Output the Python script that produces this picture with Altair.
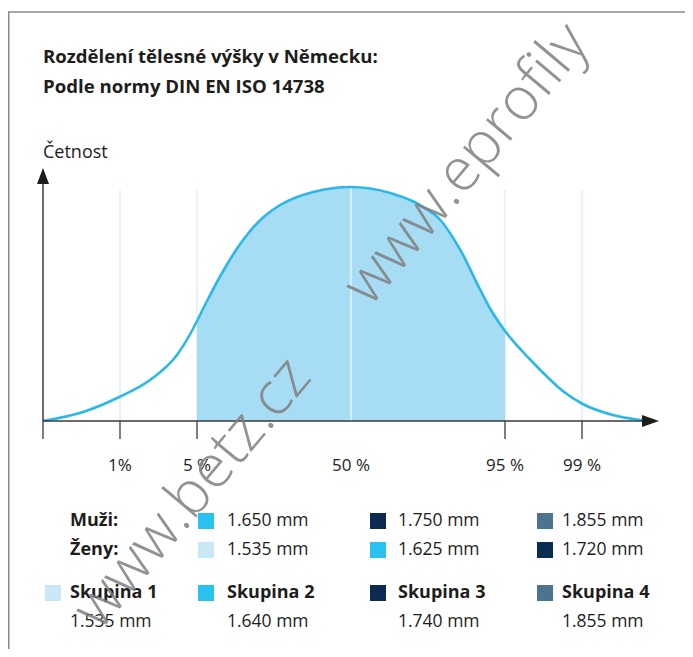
import altair as alt
import pandas as pd

# ---------------- data ----------------
# curve: x in "percentile-axis units" (1% = 1, 5% = 2, 50% = 4, 95% = 6, 99% = 7), h = frequency (arbitrary)
curve_x = [0.00, 0.52, 0.99, 1.39, 1.74, 1.94, 2.00, 2.13, 2.34, 2.56, 2.69, 2.88, 3.08, 3.30, 3.51, 3.99,
           4.51, 4.94, 5.16, 5.42, 5.68, 5.81, 6.00, 6.32, 6.55, 6.75, 7.01, 7.40, 7.71, 7.95]
curve_h = [0, 9, 24, 41, 66, 91, 100, 120, 150, 177, 190, 205, 216, 224, 229, 234,
           228, 214, 201, 171, 131, 112, 90, 62, 44, 30, 17, 6, 1.5, 0]

pct_labels = ["1%", "5 %", "50 %", "95 %", "99 %"]
pct_pos = [1, 2, 4, 6, 7]
tick_pos = [0, 1, 2, 6, 7]
grid_pos = [1, 2, 6, 7]
fill_from, fill_to = 2, 6
median_pos = 4

title_lines = ["Rozdělení tělesné výšky v Německu:", "Podle normy DIN EN ISO 14738"]
y_title = "Četnost"

row_labels = ["Muži:", "Ženy:"]
men_values = ["1.650 mm", "1.750 mm", "1.855 mm"]
women_values = ["1.535 mm", "1.625 mm", "1.720 mm"]
group_names = ["Skupina 1", "Skupina 2", "Skupina 3", "Skupina 4"]
group_values = ["1.535 mm", "1.640 mm", "1.740 mm", "1.855 mm"]

C_LIGHT, C_CYAN, C_NAVY, C_STEEL = "#c8e8f5", "#29c1ef", "#0c2b53", "#4c7390"
men_colors = [C_CYAN, C_NAVY, C_STEEL]
women_colors = [C_LIGHT, C_CYAN, C_NAVY]
group_colors = [C_LIGHT, C_CYAN, C_NAVY, C_STEEL]

watermark = ["www.betz.cz", "www.eprofily"]

FONT = "Open Sans"
TXT = "#1d1d1b"

# ---------------- tables ----------------
curve = pd.DataFrame({"x": curve_x, "h": curve_h})
fill = curve[(curve.x >= fill_from) & (curve.x <= fill_to)]
peak = max(curve_h)

grid_df = pd.DataFrame({"x": grid_pos, "y0": 0, "y1": 231})
tick_df = pd.DataFrame({"x": tick_pos, "y0": 0, "y1": -18})
lab_df = pd.DataFrame({"x": pct_pos, "t": pct_labels})
mid_df = pd.DataFrame({"x": [median_pos], "y0": [0], "y1": [peak]})
xaxis_df = pd.DataFrame({"x0": [0], "x1": [7.8], "y": [0]})
yaxis_df = pd.DataFrame({"x": [0], "y0": [0], "y1": [240]})
arrow_up = pd.DataFrame({"x": [0], "y": [245]})
arrow_right = pd.DataFrame({"x": [7.89], "y": [0]})

xs = alt.Scale(domain=[0, 8], range=[35, 651], nice=False, zero=False)
ys = alt.Scale(domain=[0, 253], range=[413, 160], nice=False, zero=False)

def X(f):
    return alt.X(f, type="quantitative", scale=xs, axis=None)

def Y(f):
    return alt.Y(f, type="quantitative", scale=ys, axis=None)

grid = alt.Chart(grid_df).mark_rule(color="#d9eef8", strokeWidth=1.3).encode(
    x=X("x"), y=Y("y0"), y2="y1")
area = alt.Chart(fill).mark_area(color="#a7dcf5", interpolate="monotone").encode(
    x=X("x"), y=Y("h"))
mid = alt.Chart(mid_df).mark_rule(color="#ffffff", strokeWidth=1).encode(
    x=X("x"), y=Y("y0"), y2="y1")
line = alt.Chart(curve).mark_line(color="#2bb7e9", strokeWidth=2.6, interpolate="monotone").encode(
    x=X("x"), y=Y("h"))
xaxis = alt.Chart(xaxis_df).mark_rule(color="#3a3a3a", strokeWidth=1.5).encode(
    x=X("x0"), x2="x1", y=Y("y"))
yaxis = alt.Chart(yaxis_df).mark_rule(color="#3a3a3a", strokeWidth=1.5).encode(
    x=X("x"), y=Y("y0"), y2="y1")
ticks = alt.Chart(tick_df).mark_rule(color="#3a3a3a", strokeWidth=1.3).encode(
    x=X("x"), y=Y("y0"), y2="y1")
up = alt.Chart(arrow_up).mark_point(shape="M0,-1L0.75,1L-0.75,1Z", size=256, filled=True,
                                    color="#1d1d1b", opacity=1).encode(x=X("x"), y=Y("y"))
right = alt.Chart(arrow_right).mark_point(shape="M1,0L-1,0.7L-1,-0.7Z", size=289, filled=True,
                                          color="#1d1d1b", opacity=1).encode(x=X("x"), y=Y("y"))
labels = alt.Chart(lab_df).mark_text(font=FONT, fontSize=17, color=TXT, baseline="middle").encode(
    x=X("x"), y=alt.value(458), text="t:N")

# ---------------- legend ----------------
rows = []
for i, t in enumerate(row_labels):
    rows.append({"col": 0, "row": i, "t": t, "bold": True})
for j, (t, c) in enumerate(zip(men_values, men_colors)):
    rows.append({"col": j + 1, "row": 0, "t": t, "bold": False, "c": c})
for j, (t, c) in enumerate(zip(women_values, women_colors)):
    rows.append({"col": j + 1, "row": 1, "t": t, "bold": False, "c": c})
for j, (t, v, c) in enumerate(zip(group_names, group_values, group_colors)):
    rows.append({"col": j, "row": 2, "t": t, "bold": True, "c": c})
    rows.append({"col": j, "row": 3, "t": v, "bold": False})
leg = pd.DataFrame(rows)

row_scale = alt.Scale(domain=[0, 1, 2, 3], range=[513, 542, 585, 614], nice=False, zero=False)
txt_scale = alt.Scale(domain=[0, 1, 2, 3], range=[62, 219, 390, 554], nice=False, zero=False)
sq_scale = alt.Scale(domain=[0, 1, 2, 3], range=[45, 198, 370, 537], nice=False, zero=False)

squares = alt.Chart(leg).transform_filter("isValid(datum.c)").mark_square(
    size=256, opacity=1).encode(
    x=alt.X("col:Q", scale=sq_scale, axis=None),
    y=alt.Y("row:Q", scale=row_scale, axis=None),
    color=alt.Color("c:N", scale=None, legend=None))
bold_txt = alt.Chart(leg).transform_filter("datum.bold").mark_text(
    font=FONT, fontSize=18, fontWeight="bold", color=TXT, align="left", baseline="middle").encode(
    x=alt.X("col:Q", scale=txt_scale, axis=None),
    y=alt.Y("row:Q", scale=row_scale, axis=None), text="t:N")
plain_txt = alt.Chart(leg).transform_filter("!datum.bold").mark_text(
    font=FONT, fontSize=17.5, color=TXT, align="left", baseline="middle").encode(
    x=alt.X("col:Q", scale=txt_scale, axis=None),
    y=alt.Y("row:Q", scale=row_scale, axis=None), text="t:N")

# ---------------- titles / frame / watermark ----------------
ttl = pd.DataFrame({"t": title_lines, "i": [0, 1]})
title = alt.Chart(ttl).mark_text(font=FONT, fontSize=18.6, fontWeight="bold", color=TXT,
                                 align="left", baseline="alphabetic").encode(
    x=alt.value(35),
    y=alt.Y("i:Q", scale=alt.Scale(domain=[0, 1], range=[55, 85]), axis=None),
    text="t:N")
ytitle = alt.Chart(pd.DataFrame({"t": [y_title]})).mark_text(
    font=FONT, fontSize=18, color=TXT, align="left", baseline="alphabetic").encode(
    x=alt.value(35), y=alt.value(150), text="t:N")

frame_v = alt.Chart(pd.DataFrame({"a": [0]})).mark_rule(color="#8a8a8a", strokeWidth=1.5).encode(
    x=alt.value(0.75), y=alt.value(4), y2=alt.value(649))
frame_h = alt.Chart(pd.DataFrame({"a": [0]})).mark_rule(color="#8a8a8a", strokeWidth=1.5).encode(
    x=alt.value(0), x2=alt.value(677), y=alt.value(4))

wm_df = pd.DataFrame({"t": watermark, "i": [0, 1]})
wm = alt.Chart(wm_df).mark_text(font=FONT, fontSize=60, fontWeight=300, color="#808080",
                                opacity=0.85, align="left", baseline="alphabetic", angle=310).encode(
    x=alt.X("i:Q", scale=alt.Scale(domain=[0, 1], range=[92, 362]), axis=None),
    y=alt.Y("i:Q", scale=alt.Scale(domain=[0, 1], range=[624, 300]), axis=None),
    text="t:N")

chart = alt.layer(
    frame_v, frame_h, title, ytitle,
    grid, area, mid, line, xaxis, yaxis, ticks, up, right, labels,
    squares, bold_txt, plain_txt, wm,
).resolve_scale(x="independent", y="independent", color="independent").properties(
    width=677, height=641,
    autosize=alt.AutoSizeParams(type="none"),
    padding=0,
    background="white",
).configure_view(stroke=None)

chart.save("out.html", embed_options={"renderer": "svg", "actions": False})
